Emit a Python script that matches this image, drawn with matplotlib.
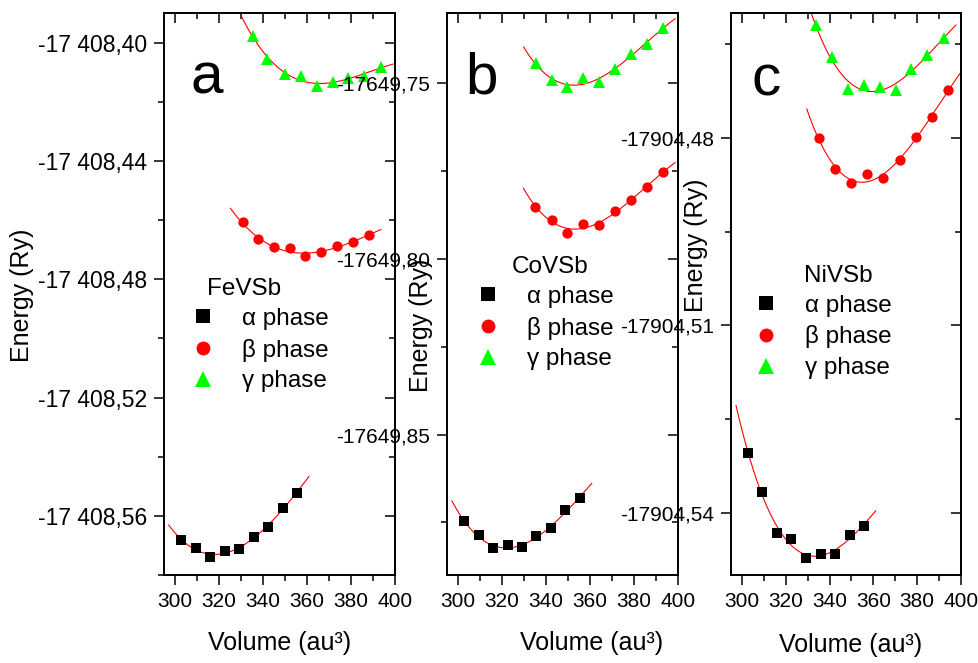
import numpy as np
import matplotlib
matplotlib.use('Agg')
import matplotlib.pyplot as plt
from matplotlib.ticker import MultipleLocator, FuncFormatter

plt.rcParams['font.family'] = ['Liberation Sans', 'DejaVu Sans']

# ---- data (volume in au^3, energy in Ry) ----
compounds = ['FeVSb', 'CoVSb', 'NiVSb']
panel_letters = ['a', 'b', 'c']
phase_labels = ['α phase', 'β phase', 'γ phase']

vol_a_alpha = [302.6, 309.4, 316.0, 322.7, 329.1, 335.8, 342.1, 348.9, 355.4]
E_a_alpha = [-17408.5680, -17408.5708, -17408.5740, -17408.5718, -17408.5711,
             -17408.5673, -17408.5638, -17408.5573, -17408.5522]
vol_a_beta = [330.7, 337.6, 344.9, 352.2, 359.2, 366.4, 373.8, 380.8, 388.1]
E_a_beta = [-17408.4608, -17408.4664, -17408.4692, -17408.4694, -17408.4722,
            -17408.4707, -17408.4689, -17408.4674, -17408.4650]
vol_a_gamma = [335.5, 341.9, 349.8, 357.1, 364.4, 371.6, 378.7, 386.0, 393.6]
E_a_gamma = [-17408.3977, -17408.4056, -17408.4107, -17408.4112, -17408.4146,
             -17408.4133, -17408.4120, -17408.4112, -17408.4082]

vol_b_alpha = [302.7, 309.4, 315.9, 322.6, 329.1, 335.6, 342.3, 348.6, 355.3]
E_b_alpha = [-17649.8747, -17649.8786, -17649.8824, -17649.8814, -17649.8821,
             -17649.8790, -17649.8767, -17649.8715, -17649.8681]
vol_b_beta = [335.2, 342.6, 349.7, 357.0, 364.3, 371.5, 378.6, 385.9, 393.2]
E_b_beta = [-17649.7851, -17649.7889, -17649.7925, -17649.7901, -17649.7903,
            -17649.7865, -17649.7832, -17649.7795, -17649.7752]
vol_b_gamma = [335.3, 342.6, 349.7, 356.8, 364.1, 371.4, 378.6, 385.9, 393.2]
E_b_gamma = [-17649.7443, -17649.7490, -17649.7512, -17649.7484, -17649.7497,
             -17649.7460, -17649.7417, -17649.7387, -17649.7342]

vol_c_alpha = [302.8, 309.2, 315.9, 322.5, 329.2, 335.9, 342.3, 349.1, 355.6]
E_c_alpha = [-17904.5305, -17904.5367, -17904.5432, -17904.5442, -17904.5472,
             -17904.5466, -17904.5467, -17904.5436, -17904.5421]
vol_c_beta = [335.1, 342.5, 350.0, 357.3, 364.5, 372.0, 379.5, 386.7, 394.0]
E_c_beta = [-17904.4800, -17904.4850, -17904.4872, -17904.4858, -17904.4864,
            -17904.4835, -17904.4798, -17904.4767, -17904.4724]
vol_c_gamma = [333.6, 341.0, 348.4, 355.5, 363.0, 370.3, 377.2, 384.5, 392.2]
E_c_gamma = [-17904.4620, -17904.4670, -17904.4721, -17904.4715, -17904.4719,
             -17904.4724, -17904.4689, -17904.4668, -17904.4640]

y_limits = [(-17408.58, -17408.39), (-17649.89, -17649.73), (-17904.55, -17904.46)]
y_major = [0.04, 0.05, 0.03]

series = [
    [(vol_a_alpha, E_a_alpha), (vol_a_beta, E_a_beta), (vol_a_gamma, E_a_gamma)],
    [(vol_b_alpha, E_b_alpha), (vol_b_beta, E_b_beta), (vol_b_gamma, E_b_gamma)],
    [(vol_c_alpha, E_c_alpha), (vol_c_beta, E_c_beta), (vol_c_gamma, E_c_gamma)],
]

markers = ['s', 'o', '^']
msizes = [7, 7.4, 9]
colors = ['#000000', '#ff0000', '#00ff00']


def fmt_spaced(v, pos):
    return f"{v:,.2f}".replace(',', ' ').replace('.', ',')


def fmt_plain(v, pos):
    return f"{v:.2f}".replace('.', ',')


formatters = [fmt_spaced, fmt_plain, fmt_plain]
ytick_sizes = [16.5, 15, 15]

# ---- layout in pixels (left, top, right, bottom) ----
W, H = 979, 663
boxes = [(164, 13, 395, 575), (447, 13, 678, 575), (731, 13, 961, 575)]
letter_pos = [(191, 93), (465, 93), (752, 95)]
title_pos = [(207, 295), (512, 273), (804, 282)]
legend_mid = [(203, 350), (488, 328), (766, 337)]
ylabel_pos = [(22, 295), (421, 325), (696, 245)]
xlabel_pos = [(280, 643), (592, 643), (851, 645)]

fig = plt.figure(figsize=(W / 100, H / 100), dpi=100)


def frac(box, x, y):
    l, t, r, b = box
    return (x - l) / (r - l), (b - y) / (b - t)


for i in range(3):
    l, t, r, b = boxes[i]
    ax = fig.add_axes([l / W, 1 - b / H, (r - l) / W, (b - t) / H])

    for j, (v, e) in enumerate(series[i]):
        v = np.asarray(v)
        e = np.asarray(e)
        fit = np.polynomial.Polynomial.fit(v, e, 3)
        vv = np.linspace(v.min() - 5.5, v.max() + 5.5, 200)
        ax.plot(vv, fit(vv), color='#ff0000', lw=0.8, zorder=2)
        ax.plot(v, e, linestyle='none', marker=markers[j], ms=msizes[j],
                color=colors[j], mew=0, label=phase_labels[j], zorder=3)

    ax.set_xlim(295, 400)
    ax.set_ylim(*y_limits[i])
    ax.xaxis.set_major_locator(MultipleLocator(20))
    ax.xaxis.set_minor_locator(MultipleLocator(10))
    ax.yaxis.set_major_locator(MultipleLocator(y_major[i]))
    ax.yaxis.set_minor_locator(MultipleLocator(y_major[i] / 2))
    ax.yaxis.set_major_formatter(FuncFormatter(formatters[i]))

    for s in ax.spines.values():
        s.set_linewidth(1.4)
    ax.tick_params(which='major', direction='out', length=7.5, width=1.1,
                   labelsize=15, pad=4.5)
    ax.tick_params(which='minor', direction='out', length=4.3, width=1.1)
    ax.tick_params(axis='y', labelsize=ytick_sizes[i])

    sec_y = ax.secondary_yaxis('right')
    sec_y.yaxis.set_major_locator(MultipleLocator(y_major[i]))
    sec_y.yaxis.set_minor_locator(MultipleLocator(y_major[i] / 2))
    sec_y.tick_params(which='major', direction='in', length=7.5, width=1.1, labelright=False)
    sec_y.tick_params(which='minor', direction='in', length=4.3, width=1.1)
    sec_x = ax.secondary_xaxis('top')
    sec_x.xaxis.set_major_locator(MultipleLocator(20))
    sec_x.xaxis.set_minor_locator(MultipleLocator(10))
    sec_x.tick_params(which='major', direction='in', length=7.5, width=1.1, labeltop=False)
    sec_x.tick_params(which='minor', direction='in', length=4.3, width=1.1)
    for sec in (sec_x, sec_y):
        for s in sec.spines.values():
            s.set_linewidth(1.4)

    ax.set_xlabel('Volume (au³)', fontsize=18)
    ax.xaxis.set_label_coords(*frac(boxes[i], *xlabel_pos[i]))
    ax.xaxis.label.set_verticalalignment('center')
    ax.set_ylabel('Energy (Ry)', fontsize=18)
    ax.yaxis.set_label_coords(*frac(boxes[i], *ylabel_pos[i]))
    ax.yaxis.label.set_verticalalignment('center')

    ax.text(*frac(boxes[i], *letter_pos[i]), panel_letters[i], fontsize=42,
            ha='left', va='baseline', transform=ax.transAxes)
    ax.text(*frac(boxes[i], *title_pos[i]), compounds[i], fontsize=17.5,
            ha='left', va='baseline', transform=ax.transAxes)

    fs_px = 17.5 * 100 / 72
    hx, hy = legend_mid[i]
    ax.legend(loc='center left',
              bbox_to_anchor=frac(boxes[i], hx - 0.5 * fs_px, hy),
              frameon=False, fontsize=17.5, handlelength=1.0,
              handletextpad=1.1, labelspacing=0.36, borderpad=0,
              borderaxespad=0, markerscale=1.35)

fig.savefig('out.png', dpi=100)
